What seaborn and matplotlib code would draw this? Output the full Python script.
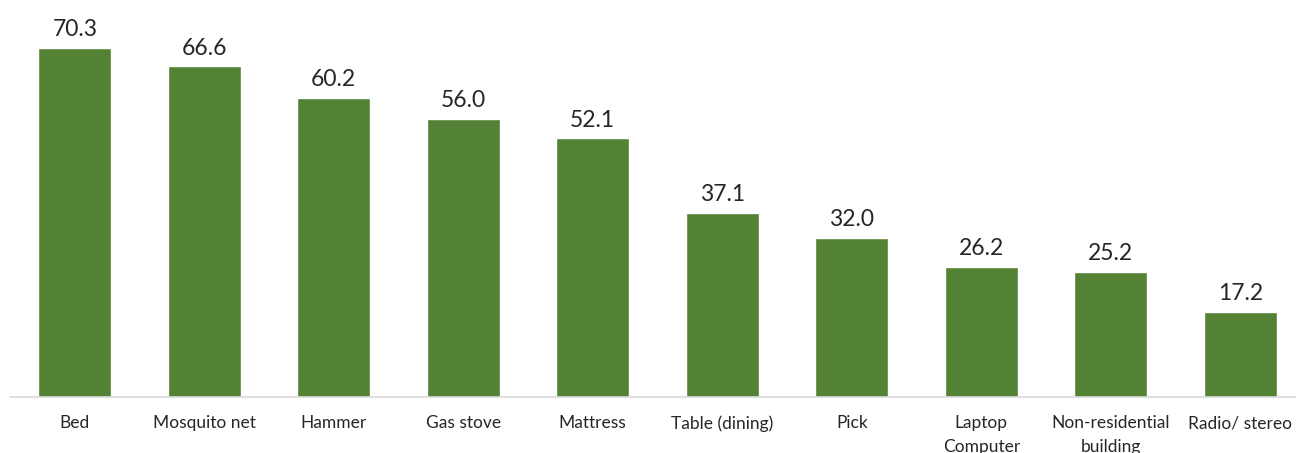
import matplotlib
matplotlib.use("Agg")
import matplotlib.pyplot as plt
import seaborn as sns
import pandas as pd

items = ["Bed", "Mosquito net", "Hammer", "Gas stove", "Mattress",
         "Table (dining)", "Pick", "Laptop\nComputer", "Non-residential\nbuilding",
         "Radio/ stereo"]
values = [70.3, 66.6, 60.2, 56.0, 52.1, 37.1, 32.0, 26.2, 25.2, 17.2]

df = pd.DataFrame({"item": items, "value": values})

sns.set_style("white")
plt.rcParams['font.family'] = ['Lato', 'DejaVu Sans']

fig = plt.figure(figsize=(12.96, 4.53), dpi=100)
ax = fig.add_axes([10 / 1296, 56 / 453, 1295 / 1296, 397 / 453])
sns.barplot(data=df, x="item", y="value", color="#548235", saturation=1,
            width=0.56, ax=ax)

for i, v in enumerate(values):
    ax.text(i, v + 1.6, f"{v:.1f}", ha="center", va="bottom",
            fontsize=16.5, color="#262626")

ax.set_ylim(0, 80)
ax.set_xlim(-0.5, 9.5)
ax.set_xlabel("")
ax.set_ylabel("")
ax.set_yticks([])
ax.tick_params(axis="x", length=0, pad=13, labelsize=12.5, labelcolor="#262626")
for s in ["top", "right", "left"]:
    ax.spines[s].set_visible(False)
ax.spines["bottom"].set_color("#d9d9d9")
ax.spines["bottom"].set_linewidth(1.2)
for lbl in ax.get_xticklabels():
    lbl.set_linespacing(1.6)
    lbl.set_verticalalignment("top")

fig.savefig("out.png", dpi=100)
